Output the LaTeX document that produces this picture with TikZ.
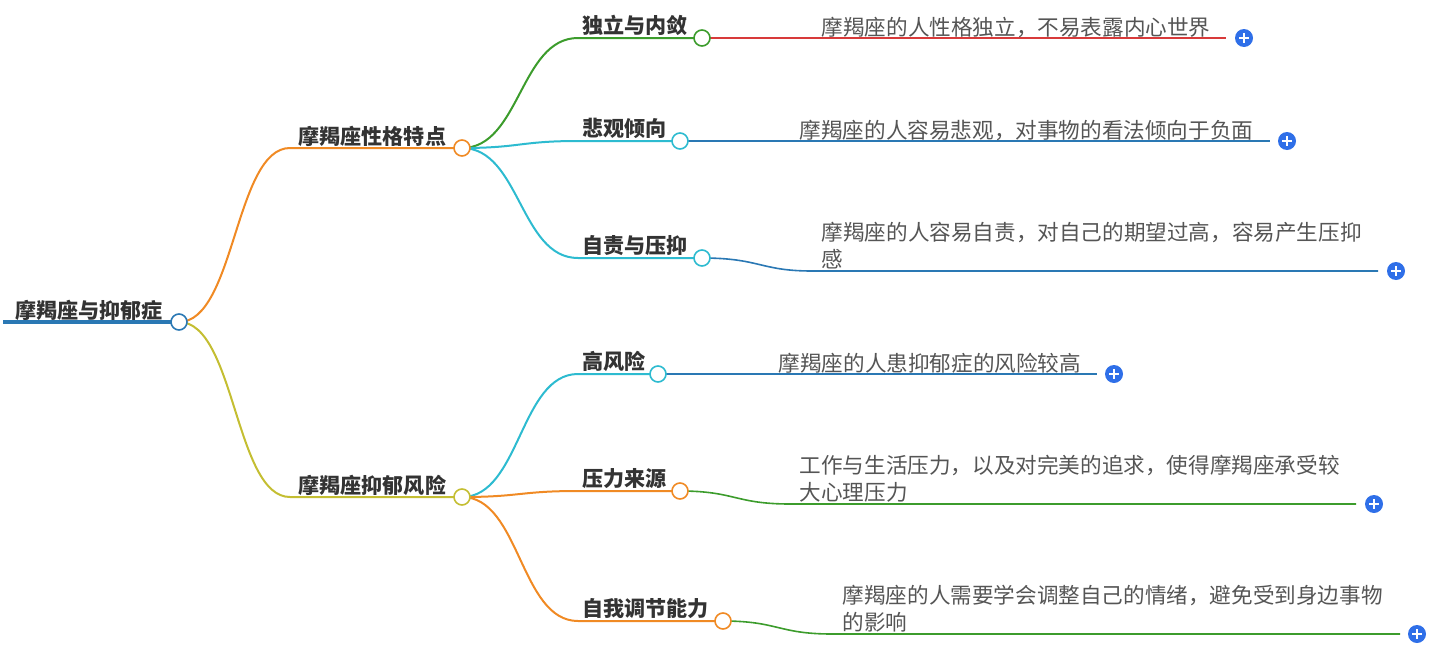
\documentclass[tikz,border=0pt]{standalone}
\usepackage{fontspec}
\newfontfamily\cjk{Noto Sans CJK SC}
\definecolor{corange}{HTML}{F08A24}
\definecolor{colive}{HTML}{C4BE32}
\definecolor{cgreen}{HTML}{3C9C2C}
\definecolor{ccyan}{HTML}{2DBBD0}
\definecolor{cblue}{HTML}{2A78B4}
\definecolor{cred}{HTML}{D83A3A}
\definecolor{cplus}{HTML}{2F6FE8}
\definecolor{ctext}{HTML}{555555}
\begin{document}
\begin{tikzpicture}[x=0.75pt,y=-0.75pt,
  br/.style={line width=1.5pt},
  lf/.style={line width=1.2pt},
  dot/.style={circle,draw,fill=white,line width=1.2pt,minimum size=12pt,inner sep=0pt},
  plusn/.style={circle,fill=cplus,minimum size=13.5pt,inner sep=0pt,
    path picture={\draw[white,line width=1.3pt] ([xshift=-3.5pt]path picture bounding box.center) -- ([xshift=3.5pt]path picture bounding box.center) ([yshift=-3.5pt]path picture bounding box.center) -- ([yshift=3.5pt]path picture bounding box.center);}},
  ttl/.style={anchor=south west,inner sep=1pt,yshift=3pt,font=\cjk\bfseries\fontsize{15.8}{18}\selectfont,text=black!80},
  lft/.style={anchor=south west,inner sep=1pt,yshift=2.3pt,font=\cjk\fontsize{16.2}{20.3}\selectfont,text=ctext,align=left}]
\useasboundingbox (0,0) rectangle (1439,650);
% root
\coordinate (r0) at (3,322);
\node[ttl] (rt) at (14,326) {摩羯座与抑郁症};
\draw[cblue,line width=3pt] (r0) -- (179,322);
% branch 1
\node[ttl] (t1) at (297,152) {摩羯座性格特点};
\draw[br,corange] (179,322) .. controls (235,322) and (235,148) .. (290,148) -- (462,148);
\node[ttl] (t2) at (297,501) {摩羯座抑郁风险};
\draw[br,colive] (179,322) .. controls (235,322) and (235,497) .. (290,497) -- (462,497);
\node[dot,draw=cblue] (root) at (179,322) {};
% children of 1
\draw[br,cgreen] (462,148) .. controls (520,148) and (520,38) .. (578,38) -- (702,38);
\node[ttl] at (581,41) {独立与内敛};
\draw[lf,cred] (702,38) -- (1226,38);
\node[lft] at (820,42) {摩羯座的人性格独立，不易表露内心世界};
\node[plusn] at (1244,38) {};
\node[dot,draw=cgreen] at (702,38) {};

\draw[br,ccyan] (462,148) .. controls (520,148) and (520,141) .. (578,141) -- (680,141);
\node[ttl] at (581,144) {悲观倾向};
\draw[lf,cblue] (680,141) -- (1270,141);
\node[lft] at (798,145) {摩羯座的人容易悲观，对事物的看法倾向于负面};
\node[plusn] at (1287,141) {};
\node[dot,draw=ccyan] at (680,141) {};

\draw[br,ccyan] (462,148) .. controls (520,148) and (520,258) .. (578,258) -- (702,258);
\node[ttl] at (581,261) {自责与压抑};
\draw[lf,cblue] (702,258) .. controls (760,258) and (760,271) .. (812,271) -- (1378,271);
\node[lft] at (820,274) {摩羯座的人容易自责，对自己的期望过高，容易产生压抑\\感};
\node[plusn] at (1396,271) {};
\node[dot,draw=ccyan] at (702,258) {};
\node[dot,draw=corange] at (462,148) {};
% children of 2
\draw[br,ccyan] (462,497) .. controls (520,497) and (520,374) .. (578,374) -- (658,374);
\node[ttl] at (581,377) {高风险};
\draw[lf,cblue] (658,374) -- (1097,374);
\node[lft] at (777,378) {摩羯座的人患抑郁症的风险较高};
\node[plusn] at (1114,374) {};
\node[dot,draw=ccyan] at (658,374) {};

\draw[br,corange] (462,497) .. controls (520,497) and (520,491) .. (578,491) -- (680,491);
\node[ttl] at (581,494) {压力来源};
\draw[lf,cgreen] (680,491) .. controls (735,491) and (735,504) .. (790,504) -- (1356,504);
\node[lft] at (798,507) {工作与生活压力，以及对完美的追求，使得摩羯座承受较\\大心理压力};
\node[plusn] at (1374,504) {};
\node[dot,draw=corange] at (680,491) {};

\draw[br,corange] (462,497) .. controls (520,497) and (520,621) .. (578,621) -- (723,621);
\node[ttl] at (581,624) {自我调节能力};
\draw[lf,cgreen] (723,621) .. controls (778,621) and (778,634) .. (832,634) -- (1400,634);
\node[lft] at (841,637) {摩羯座的人需要学会调整自己的情绪，避免受到身边事物\\的影响};
\node[plusn] at (1417,634) {};
\node[dot,draw=corange] at (723,621) {};
\node[dot,draw=colive] at (462,497) {};
\end{tikzpicture}
\end{document}
